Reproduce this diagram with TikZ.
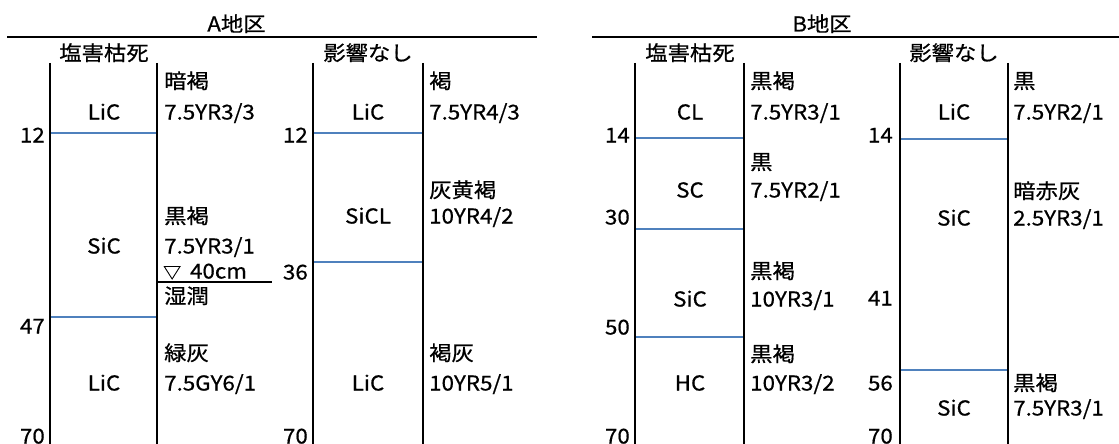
\documentclass[tikz,border=0pt]{standalone}
\usepackage{fontspec}
\setmainfont{Noto Sans CJK JP}[FakeStretch=1.09, FakeBold=0.6]
\definecolor{hz}{RGB}{79,129,189}
\tikzset{
 every node/.style={inner sep=0pt, font=\fontsize{20.5}{24}\selectfont},
 ct/.style={anchor=base, yshift=-7.5pt},
 lt/.style={anchor=base west, yshift=-7.5pt},
 rt/.style={anchor=base east, yshift=-7.5pt},
 col/.style={line width=2.8pt, black},
 hor/.style={line width=2.3pt, hz},
 rule/.style={line width=2.6pt, black},
 wl/.style={line width=2pt, black},
}
\begin{document}
\begin{tikzpicture}[x=1pt,y=-1pt]
\useasboundingbox (0,0) rectangle (1119,444);
% ---------- A ----------
\node[ct] (Ah) at (236.5,24) {A地区};
\draw[rule] (7,37) -- (537,37);
\node[ct] (A1h) at (104,53) {塩害枯死};
\node[ct] (A2h) at (368,53) {影響なし};
\draw[col] (50,63) -- (50,444);
\draw[col] (157,63) -- (157,444);
\draw[col] (313,63) -- (313,444);
\draw[col] (423,63) -- (423,444);
\draw[hor] (51,133) -- (156,133);
\draw[hor] (51,317) -- (156,317);
\draw[hor] (314,133) -- (422,133);
\draw[hor] (314,262) -- (422,262);
\draw[wl] (158,282) -- (272,282);
% A1 texts
\node[lt] (a1c1) at (164,81) {暗褐};
\node[ct] (a1t1) at (104,112) {LiC};
\node[lt] (a1m1) at (164,112) {7.5YR3/3};
\node[rt] (a1d1) at (45,135) {12};
\node[lt] (a1c2) at (164,216) {黒褐};
\node[ct] (a1t2) at (104,246) {SiC};
\node[lt] (a1m2) at (164,246) {7.5YR3/1};
\node[lt] (a1w) at (163,271) {\scalebox{0.8}{▽}\hspace{9pt}40cm};
\node[lt] (a1s) at (164,296) {湿潤};
\node[rt] (a1d2) at (45,326) {47};
\node[lt] (a1c3) at (164,353) {緑灰};
\node[ct] (a1t3) at (104,383) {LiC};
\node[lt] (a1m3) at (164,383) {7.5GY6/1};
\node[rt] (a1d3) at (45,436) {70};
% A2 texts
\node[lt] (a2c1) at (429,81) {褐};
\node[ct] (a2t1) at (368,112) {LiC};
\node[lt] (a2m1) at (429,112) {7.5YR4/3};
\node[rt] (a2d1) at (308,135) {12};
\node[lt] (a2c2) at (429,190) {灰黄褐};
\node[ct] (a2t2) at (368,216) {SiCL};
\node[lt] (a2m2) at (429,216) {10YR4/2};
\node[rt] (a2d2) at (308,272) {36};
\node[lt] (a2c3) at (429,353) {褐灰};
\node[ct] (a2t3) at (368,383) {LiC};
\node[lt] (a2m3) at (429,383) {10YR5/1};
\node[rt] (a2d3) at (308,436) {70};
% ---------- B ----------
\node[ct] (Bh) at (822,24) {B地区};
\draw[rule] (592,37) -- (1119,37);
\node[ct] (B1h) at (690,53) {塩害枯死};
\node[ct] (B2h) at (954,53) {影響なし};
\draw[col] (635,63) -- (635,444);
\draw[col] (744,63) -- (744,444);
\draw[col] (900,63) -- (900,444);
\draw[col] (1008,63) -- (1008,444);
\draw[hor] (636,138) -- (743,138);
\draw[hor] (636,229) -- (743,229);
\draw[hor] (636,337) -- (743,337);
\draw[hor] (901,139) -- (1007,139);
\draw[hor] (901,370) -- (1007,370);
% B1 texts
\node[lt] (b1c1) at (750,81) {黒褐};
\node[ct] (b1t1) at (690,112) {CL};
\node[lt] (b1m1) at (750,112) {7.5YR3/1};
\node[rt] (b1d1) at (630,135) {14};
\node[lt] (b1c2) at (750,162) {黒};
\node[ct] (b1t2) at (690,190) {SC};
\node[lt] (b1m2) at (750,190) {7.5YR2/1};
\node[rt] (b1d2) at (630,217) {30};
\node[lt] (b1c3) at (750,271) {黒褐};
\node[ct] (b1t3) at (690,299) {SiC};
\node[lt] (b1m3) at (750,299) {10YR3/1};
\node[rt] (b1d3) at (630,327) {50};
\node[lt] (b1c4) at (750,354) {黒褐};
\node[ct] (b1t4) at (690,383) {HC};
\node[lt] (b1m4) at (750,383) {10YR3/2};
\node[rt] (b1d4) at (630,436) {70};
% B2 texts
\node[lt] (b2c1) at (1013,81) {黒};
\node[ct] (b2t1) at (954,112) {LiC};
\node[lt] (b2m1) at (1013,112) {7.5YR2/1};
\node[rt] (b2d1) at (893,135) {14};
\node[lt] (b2c2) at (1013,191) {暗赤灰};
\node[ct] (b2t2) at (954,218) {SiC};
\node[lt] (b2m2) at (1013,218) {2.5YR3/1};
\node[rt] (b2d2) at (893,298) {41};
\node[rt] (b2d3) at (893,383) {56};
\node[lt] (b2c3) at (1013,383) {黒褐};
\node[ct] (b2t3) at (954,408) {SiC};
\node[lt] (b2m3) at (1013,408) {7.5YR3/1};
\node[rt] (b2d4) at (893,436) {70};
\end{tikzpicture}
\end{document}
